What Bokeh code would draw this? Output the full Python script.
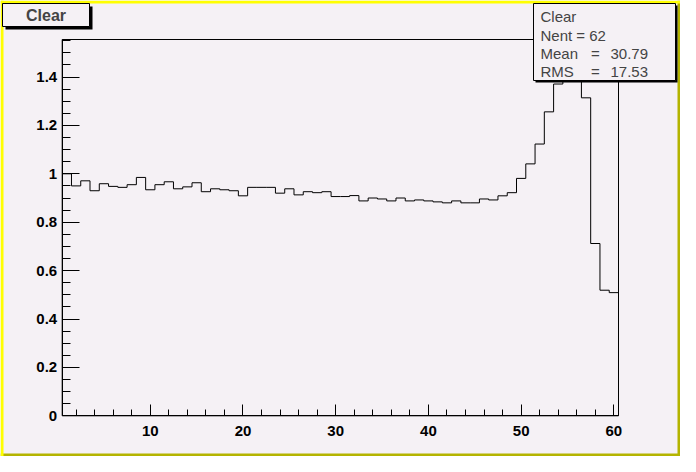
from bokeh.plotting import figure
from bokeh.models import BoxAnnotation, Label, FixedTicker, Range1d, LinearAxis
from bokeh.embed import file_html
from bokeh.resources import INLINE

# ---- data ----
bins = list(range(1, 61))
values = [1.000, 0.950, 0.971, 0.930, 0.959, 0.948, 0.944, 0.955, 0.985, 0.934,
          0.955, 0.967, 0.938, 0.946, 0.963, 0.926, 0.938, 0.934, 0.930, 0.909,
          0.944, 0.944, 0.944, 0.920, 0.938, 0.913, 0.926, 0.922, 0.926, 0.906,
          0.906, 0.910, 0.888, 0.900, 0.896, 0.888, 0.900, 0.888, 0.892, 0.888,
          0.884, 0.880, 0.888, 0.880, 0.880, 0.896, 0.892, 0.909, 0.922, 0.981,
          1.041, 1.123, 1.256, 1.371, 1.440, 1.480, 1.314, 0.712, 0.519, 0.509]
x_lo, x_hi = 0.5, 60.5
y_lo, y_hi = 0.0, 1.555
x_ticks = [10, 20, 30, 40, 50, 60]
x_minor = [2, 4, 6, 8, 12, 14, 16, 18, 22, 24, 26, 28, 32, 34, 36, 38, 42, 44, 46, 48,
           52, 54, 56, 58]
y_ticks = [0, 0.2, 0.4, 0.6, 0.8, 1.0, 1.2, 1.4]
y_tick_labels = ["0", "0.2", "0.4", "0.6", "0.8", "1", "1.2", "1.4"]
y_minor = [0.05, 0.1, 0.15, 0.25, 0.3, 0.35, 0.45, 0.5, 0.55, 0.65, 0.7, 0.75,
           0.85, 0.9, 0.95, 1.05, 1.1, 1.15, 1.25, 1.3, 1.35, 1.45, 1.5, 1.55]
hist_name = "Clear"
stats = [("Mean", "30.79"), ("RMS", "17.53")]
nent = 62

BG = "#f5f1f5"
FONT = "Liberation Sans"
W, H = 680, 456
# space (pixels) around the histogram frame
PL, PR, PT, PB = 61.7, 62.0, 39.0, 40.7
sx = (x_hi - x_lo) / (W - PL - PR)
sy = (y_hi - y_lo) / (H - PT - PB)

p = figure(width=W, height=H, output_backend="svg", toolbar_location=None,
           x_range=Range1d(x_lo - PL * sx, x_hi + PR * sx),
           y_range=Range1d(y_lo - PB * sy, y_hi + PT * sy),
           x_axis_location=None, y_axis_location=None,
           min_border=0)
p.background_fill_color = BG
p.border_fill_color = BG
p.outline_line_color = None
p.xgrid.visible = False
p.ygrid.visible = False

xa = LinearAxis(fixed_location=y_lo, bounds=(x_lo, x_hi))
ya = LinearAxis(fixed_location=x_lo, bounds=(y_lo, y_hi))
p.add_layout(xa, "below")
p.add_layout(ya, "left")

# histogram frame box
p.add_layout(BoxAnnotation(left=x_lo, right=x_hi, bottom=y_lo, top=y_hi,
                           fill_alpha=0, line_color="black", line_width=1,
                           line_alpha=1, level="underlay"))

# histogram outline
edges = [b - 0.5 for b in bins] + [bins[-1] + 0.5]
p.step(x=edges, y=values + [values[-1]], mode="after", line_color="black", line_width=1)

xa.ticker = FixedTicker(ticks=x_ticks, minor_ticks=x_minor)
xa.major_tick_in = 11
xa.major_tick_out = 0
xa.minor_tick_in = 6
xa.minor_tick_out = 0
xa.major_label_standoff = 10
ya.ticker = FixedTicker(ticks=y_ticks, minor_ticks=y_minor)
ya.major_label_overrides = {t: s for t, s in zip(y_ticks, y_tick_labels)}
ya.major_tick_in = 17
ya.major_tick_out = 0
ya.minor_tick_in = 8
ya.minor_tick_out = 0
ya.major_label_standoff = 5
for ax in (xa, ya):
    ax.axis_line_color = "black"
    ax.major_tick_line_color = "black"
    ax.minor_tick_line_color = "black"
    ax.major_label_text_font = FONT
    ax.major_label_text_font_style = "bold"
    ax.major_label_text_font_size = "15px"
    ax.major_label_text_color = "black"


def sbox(l, r, b, t, fill, line=None):
    return BoxAnnotation(left=l, right=r, bottom=b, top=t,
                         left_units="screen", right_units="screen",
                         top_units="screen", bottom_units="screen",
                         fill_color=fill, fill_alpha=1,
                         line_color=line if line else fill,
                         line_alpha=1 if line else 0, line_width=1,
                         level="overlay")


def slabel(x, y, text, bold=False, align="left", size="15px"):
    return Label(x=x, y=y, x_units="screen", y_units="screen", text=text,
                 text_font=FONT, text_font_style="bold" if bold else "normal",
                 text_font_size=size, text_align=align,
                 text_baseline="middle", level="overlay")


# canvas bevel
p.add_layout(sbox(0, W, 0, 3, "#b4b400"))
p.add_layout(sbox(W - 3, W, 0, H, "#b4b400"))
p.add_layout(sbox(0, 3, 0, H, "#ffff00"))
p.add_layout(sbox(0, W, H - 3, H, "#ffff00"))

# title box
p.add_layout(sbox(5, 92, H - 29, H - 6, "black"))
p.add_layout(sbox(2, 89, H - 26, H - 3, BG, "black"))
p.add_layout(slabel(45.5, H - 14.5, hist_name, bold=True, align="center", size="16px"))

# stats box
p.add_layout(sbox(535, 677, H - 82, H - 5, "black"))
p.add_layout(sbox(533, 675, H - 80, H - 3, BG, "black"))
p.add_layout(slabel(540, H - 16, hist_name))
p.add_layout(slabel(540, H - 35, "Nent = %d" % nent))
for (name, val), yy in zip(stats, [H - 53, H - 71]):
    p.add_layout(slabel(540, yy, name))
    p.add_layout(slabel(595, yy, "=", align="center"))
    p.add_layout(slabel(610, yy, val))

open("out.html", "w").write(file_html(p, INLINE))
